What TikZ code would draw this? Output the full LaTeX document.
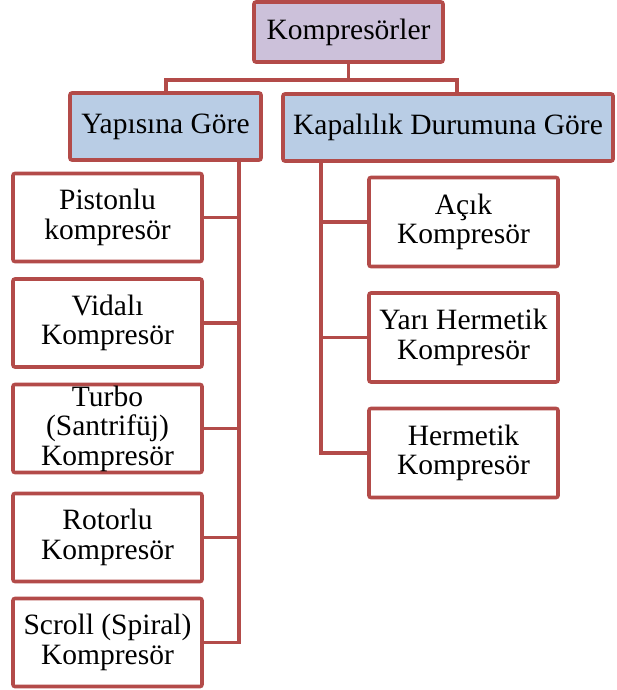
\documentclass[tikz,border=0pt]{standalone}
\usepackage{fontspec}
\setmainfont{Liberation Serif}
\newfontfamily\tnr{Liberation Serif}
\definecolor{edge}{HTML}{B34B49}
\definecolor{lav}{HTML}{CCC1DA}
\definecolor{blu}{HTML}{B9CDE5}
\begin{document}
\begin{tikzpicture}[x=1pt,y=-1pt,
  box/.style={draw=edge,line width=3.6pt,rounded corners=2pt,fill=white,
    align=center,inner sep=0pt,font=\tnr\fontsize{29.5}{29.5}\selectfont},
  lbox/.style={box,minimum width=189pt,minimum height=88pt},
  conn/.style={draw=edge,line width=3.6pt}]
\useasboundingbox (0,0) rectangle (616,690);
\coordinate (hl) at (166,80);
\coordinate (hr) at (457,80);
\coordinate (lbus) at (239,160);
\coordinate (rbus) at (321,161);
\node[box,fill=lav,minimum width=189pt,minimum height=60pt] (top) at (348.5,32) {Kompresörler};
\node[box,fill=blu,minimum width=191pt,minimum height=67pt] (yap) at (165.5,126.5) {Yapısına Göre};
\node[box,fill=blu,minimum width=330pt,minimum height=67pt] (kap) at (448,127.5) {Kapalılık Durumuna Göre};
\node[lbox] (pis) at (107.5,217.5) {Pistonlu\\kompresör};
\node[lbox] (vid) at (107.5,323) {Vidalı\\Kompresör};
\node[lbox] (tur) at (107.5,428.5) {Turbo\\(Santrifüj)\\Kompresör};
\node[lbox] (rot) at (107.5,537.5) {Rotorlu\\Kompresör};
\node[lbox] (scr) at (107.5,642.5) {Scroll (Spiral)\\Kompresör};
\node[box,minimum width=189pt,minimum height=89pt] (aci) at (463.5,222) {Açık\\Kompresör};
\node[box,minimum width=189pt,minimum height=89pt] (yar) at (463.5,337.5) {Yarı Hermetik\\Kompresör};
\node[box,minimum width=189pt,minimum height=89pt] (her) at (463.5,453) {Hermetik\\Kompresör};
\draw[conn] (top.south) -- (top.south |- hl);
\draw[conn] (yap.north -| hl) -- (hl) -- (hr) -- (hr |- kap.north);
\draw[conn] (lbus) |- (scr.east);
\foreach \n in {pis,vid,tur,rot} \draw[conn] (\n.east) -- (\n.east -| lbus);
\draw[conn] (rbus) |- (her.west);
\foreach \n in {aci,yar} \draw[conn] (\n.west) -- (\n.west -| rbus);
\end{tikzpicture}
\end{document}
